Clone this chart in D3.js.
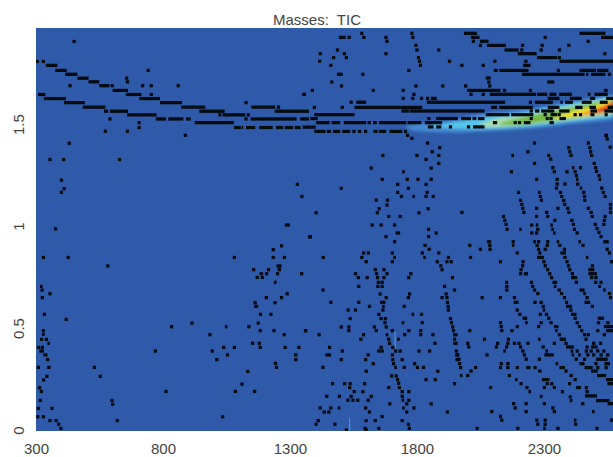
<!DOCTYPE html>
<html>
<head>
<meta charset="utf-8">
<script src="https://cdn.jsdelivr.net/npm/d3@7"></script>
<style>
  body { margin: 0; background: #fff; }
  text { font-family: "Liberation Sans", Arial, sans-serif; fill: #444; }
</style>
</head>
<body>
<div id="chart"></div>
<script>
// tick labels
const massTicks = [300, 800, 1300, 1800, 2300];
const driftTicks = [0, 0.5, 1, 1.5];
const title = "Masses:  TIC";

// TIC ridge, one filled contour per level: mass, lower drift, upper drift
const contourMass = [
    [1757, 1800, 1876, 1970, 2073, 2170, 2269, 2350, 2401, 2490, 2572],
    [1860, 1960, 2066, 2120, 2200, 2300, 2400, 2572],
    [2050, 2110, 2200, 2300, 2400, 2572],
    [2130, 2200, 2300, 2400, 2572],
    [2340, 2400, 2480, 2572],
    [2440, 2500, 2572],
    [2500, 2540, 2572]
];
const contourLow = [
    [1.480, 1.465, 1.460, 1.458, 1.465, 1.470, 1.480, 1.490, 1.500, 1.510, 1.520],
    [1.485, 1.478, 1.475, 1.478, 1.485, 1.497, 1.512, 1.535],
    [1.488, 1.485, 1.492, 1.505, 1.520, 1.547],
    [1.495, 1.497, 1.512, 1.529, 1.559],
    [1.525, 1.534, 1.544, 1.569],
    [1.544, 1.549, 1.564],
    [1.559, 1.564, 1.574]
];
const contourHigh = [
    [1.490, 1.500, 1.510, 1.529, 1.554, 1.564, 1.578, 1.598, 1.613, 1.627, 1.642],
    [1.495, 1.510, 1.534, 1.544, 1.554, 1.578, 1.598, 1.637],
    [1.500, 1.525, 1.539, 1.564, 1.588, 1.632],
    [1.505, 1.529, 1.554, 1.578, 1.622],
    [1.534, 1.559, 1.583, 1.618],
    [1.549, 1.574, 1.613],
    [1.564, 1.583, 1.603]
];
const contourColors = ["#4389d2", "#58c6ea", "#a9dcae", "#74bb45", "#f2e02e", "#f08a22", "#d92a1e"];

// faint vertical streaks: mass, drift from, drift to
const streaks = [[1714, 0.40, 0.482], [1535, 0, 0.06]];

// runs of adjacent dots: mass from, mass to, drift
const upperRuns = [
    [339,384,1.788],[376,421,1.763],[415,463,1.744],[463,507,1.725],[507,549,1.707],[549,589,1.688],
    [602,662,1.665],[654,715,1.645],[707,788,1.625],[788,875,1.605],[872,967,1.583],[943,1043,1.563],
    [1035,1124,1.545],[308,337,1.645],[331,418,1.625],[410,492,1.605],[484,573,1.583],[568,584,1.563],
    [591,662,1.563],[659,775,1.545],[772,812,1.525],[821,880,1.525],[891,909,1.525],[925,1079,1.507],
    [1079,1106,1.483],[1110,1116,1.483],[1127,1163,1.483],[1179,1232,1.483],[1245,1274,1.483],
    [1280,1313,1.483],[1319,1342,1.483],[1350,1401,1.485],[1145,1326,1.525],[1340,1375,1.525],
    [1148,1242,1.583],[1240,1375,1.563],[1380,1409,1.527],[1396,1554,1.546],
    [1493,1519,1.925],[1485,1508,1.744],[1855,1878,1.626],[1561,1600,1.607],[1839,1961,1.607],
    [1554,1821,1.582],[1739,1768,1.564],[1771,1961,1.564],[1876,1961,1.527],
    [1403,1456,1.507],[1464,1498,1.507],[1512,1600,1.507],[1627,1642,1.507],[1650,1758,1.507],
    [1763,1817,1.507],[1831,1899,1.507],[1843,1865,1.486],[1876,1896,1.486],
    [1396,1440,1.464],[1445,1461,1.464],[1469,1498,1.464],[1506,1537,1.464],[1629,1645,1.464],
    [1650,1679,1.464],[1692,1742,1.464],
    [1985,2037,1.945],[2013,2033,1.925],[2016,2029,1.906],[2048,2082,1.906],[2076,2151,1.886],
    [2145,2200,1.863],[2197,2271,1.845],[2273,2352,1.826],[2361,2572,1.808],[2440,2542,1.945],
    [2525,2572,1.925],[2218,2247,1.788],[2103,2118,1.763],[2125,2239,1.763],[2440,2505,1.763],
    [2509,2554,1.763],[2213,2460,1.744],[2466,2475,1.744],[2486,2542,1.744],[2071,2090,1.726],
    [2313,2341,1.706],[1998,2129,1.665],[2536,2551,1.665],[2087,2269,1.646],[2273,2313,1.646],
    [2322,2349,1.646],[2360,2410,1.646],[2473,2483,1.646],[2499,2551,1.646],[2315,2361,1.626],
    [2402,2449,1.626],[2481,2502,1.626],[2545,2572,1.626],[1961,2147,1.607],[2265,2335,1.607],
    [2365,2374,1.607],[2383,2414,1.607],[2449,2488,1.607],[2520,2551,1.607],[2092,2116,1.582],
    [2124,2256,1.582],[2315,2361,1.582],[2423,2452,1.582],[2479,2505,1.582],[2551,2572,1.582],
    [1961,2066,1.564],[2265,2282,1.564],[2289,2341,1.564],[2360,2401,1.564],[2483,2509,1.564],
    [2538,2572,1.564],[2071,2164,1.546],[2171,2247,1.546],[2326,2352,1.546],[2483,2499,1.546],
    [1974,2013,1.527],[2019,2034,1.527],[2040,2066,1.527],[2361,2387,1.527],[2099,2116,1.507],
    [2221,2247,1.507],[2322,2339,1.507],[2021,2066,1.486]
];

const lowerRuns = [
    [1280,1300,1.005],[1247,1267,0.804],[1237,1247,0.724],[1159,1175,0.606],[1044,1054,0.506],
    [313,331,0.387],[329,345,0.368],[316,326,0.704],[324,334,0.469],[345,355,0.425],
    [2172,2182,1.346],[2410,2420,1.286],[2426,2436,1.229],[2515,2525,1.229],[2441,2451,1.186],
    [2277,2287,1.165],[2268,2278,1.005],[2325,2335,1.005],[2203,2213,0.984],[2329,2339,0.984],
    [2336,2346,0.966],[2076,2092,0.923],[2258,2268,0.923],[2350,2360,0.923],[2436,2446,0.923],
    [2534,2555,0.923],[2174,2184,0.905],[2365,2387,0.868],[2273,2300,0.846],[2465,2475,0.846],
    [2475,2499,0.786],[2475,2509,0.766],[2221,2237,0.766],[2407,2431,0.747],[2334,2352,0.724],
    [2339,2349,0.704],[2514,2524,0.704],[2440,2460,0.686],[2533,2543,0.686],[2455,2465,0.669],
    [2181,2200,0.626],[2460,2482,0.626],[2387,2410,0.606],[2295,2305,0.588],[2407,2428,0.567],
    [2216,2234,0.548],[2512,2536,0.548],[2226,2236,0.526],[2339,2357,0.507],[2536,2572,0.507],
    [2344,2354,0.487],[2545,2572,0.487],[2277,2287,0.445],[2362,2387,0.445],[2387,2418,0.407],
    [2140,2150,0.387],[2306,2316,0.387],[2405,2415,0.387],[2302,2339,0.368],[2409,2419,0.368],
    [2435,2445,0.368],[2505,2551,0.347],[2346,2356,0.325],[2440,2460,0.325],[2538,2560,0.325],
    [2230,2247,0.306],[2361,2383,0.306],[2460,2492,0.306],[2486,2512,0.289],[1969,1979,0.267],
    [2509,2545,0.267],[2186,2196,0.247],[2292,2322,0.247],[2545,2572,0.247],[2550,2572,0.227],
    [2427,2446,0.208],[2239,2249,0.188],[2462,2509,0.167],[2284,2294,0.164],[2402,2412,0.144],
    [2505,2558,0.144],[2551,2572,0.129],[2489,2499,0.09],[2418,2428,0.048],[2297,2307,0.008],
    [1742,1752,1.266],[1782,1792,1.145],[1716,1734,0.966],[1707,1717,0.846],[1825,1835,0.846],
    [1655,1676,0.626],[1663,1673,0.606],[1779,1789,0.567],[1740,1750,0.526],[1677,1687,0.467],
    [1943,1960,0.467],[1722,1732,0.445],[1943,1960,0.425],[1440,1462,0.368],[1711,1721,0.307],
    [1740,1750,0.146],[1488,1498,0.108],[1742,1752,0.108]
];

// single dots: mass, drift
const leftDots = [
    [450,1.905],[305,1.807],[329,1.807],[600,1.688],[1024,1.545],[1136,1.545],[1255,1.583],[1127,1.605],
    [1127,1.525],[1355,1.645],[434,1.688],[657,1.725],[660,1.707],[742,1.763],[720,1.688],[754,1.688],
    [754,1.645],[860,1.688],[591,1.525],[706,1.507],[706,1.483],[573,1.465],[660,1.465],[888,1.445],
    [431,1.406],[355,1.326],[409,1.326],[629,1.326],[400,1.225],[411,1.183],[400,1.165],[1329,1.204],
    [1347,1.145],[377,0.986],[329,0.846],[427,0.846],[583,0.804],[1081,0.846],[1234,0.884],[1267,0.903],
    [1234,0.846],[1278,0.846],[1157,0.786],[1258,0.786],[1187,0.766],[1216,0.786],[1208,0.766],[1251,0.766],
    [1346,0.766],[1171,0.748],[1191,0.748],[1378,0.946],[324,0.686],[355,0.668],[325,0.649],[1289,0.668],
    [1207,0.649],[1267,0.649],[1241,0.624],[1163,0.624],[333,0.567],[1184,0.567],[1225,0.567],[419,0.542],
    [1175,0.524],[914,0.524],[834,0.506],[1138,0.506],[1183,0.487],[1237,0.487],[1361,0.487],[329,0.487],
    [985,0.467],[1277,0.467],[322,0.444],[341,0.444],[1153,0.425],[1179,0.425],[310,0.405],[325,0.405],
    [1039,0.405],[1081,0.405],[1183,0.405],[1281,0.405],[1335,0.405],[770,0.387],[994,0.387],[1054,0.368],
    [1323,0.368],[346,0.345],[1012,0.345],[1323,0.345],[309,0.307],[351,0.307],[530,0.307],[1243,0.327],
    [1247,0.307],[1134,0.287],[343,0.263],[553,0.263],[330,0.245],[1111,0.225],[314,0.207],[321,0.189],
    [812,0.189],[1085,0.189],[1161,0.189],[317,0.145],[599,0.145],[602,0.126],[309,0.106],[363,0.106],
    [307,0.065],[329,0.065],[1035,0.065],[355,0.046],[379,0.046],[620,0.046],[389,0.028],[398,0.008]
];

const upperDots = [
    [1533,1.925],[1583,1.945],[1591,1.925],[1678,1.925],[1682,1.906],[1780,1.945],[1784,1.925],[1796,1.886],
    [1800,1.863],[1886,1.863],[1419,1.845],[1487,1.863],[1514,1.845],[1472,1.826],[1522,1.826],[1417,1.808],
    [1678,1.845],[1806,1.826],[1810,1.808],[1814,1.788],[1461,1.788],[1928,1.808],[1768,1.763],[1587,1.744],
    [1465,1.706],[1503,1.687],[1796,1.687],[1902,1.687],[1388,1.665],[1356,1.646],[1628,1.665],[1746,1.665],
    [1788,1.646],[1746,1.626],[1784,1.626],[1818,1.626],[1842,1.626],[1541,1.607],[1396,1.582],[1506,1.582],
    [1847,1.527],[1612,1.507],[1932,1.486],[1552,1.464],[1574,1.464],[1598,1.464],[1755,1.464],[1763,1.445],
    [1780,1.43],[2040,1.925],[2050,1.886],[2216,1.886],[2213,1.863],[2305,1.925],[2293,1.886],[2289,1.863],
    [2361,1.863],[2398,1.886],[2474,1.906],[2540,1.845],[2361,1.826],[1977,1.788],[2061,1.788],[2107,1.808],
    [2229,1.808],[2357,1.763],[2558,1.744],[2083,1.706],[2087,1.687],[1992,1.687],[2145,1.665],[2247,1.665],
    [2013,1.646],[2061,1.646],[2247,1.607],[2250,1.564],[2250,1.527],[2252,1.546],[2305,1.546],[2360,1.546],
    [2423,1.546],[2444,1.546],[2545,1.546],[2313,1.527],[2328,1.527],[2187,1.507],[2204,1.507],[2003,1.486],
    [2545,1.445],[2549,1.427]
];

const midDots = [
    [2545,1.443],[2263,1.407],[2475,1.407],[2561,1.387],[2398,1.384],[2402,1.364],[2481,1.384],[2484,1.364],
    [2488,1.346],[2407,1.346],[2237,1.364],[2319,1.346],[2327,1.328],[2498,1.307],[2504,1.286],[2507,1.268],
    [2263,1.307],[2335,1.286],[2444,1.286],[2172,1.266],[2341,1.266],[2391,1.266],[2423,1.266],[2428,1.247],
    [2517,1.247],[2271,1.229],[2352,1.229],[2352,1.206],[2383,1.206],[2433,1.206],[2349,1.186],[2528,1.186],
    [2200,1.165],[2365,1.165],[2457,1.165],[2534,1.165],[2286,1.145],[2370,1.145],[2460,1.145],[2541,1.145],
    [2208,1.126],[2290,1.126],[2378,1.126],[2461,1.126],[2213,1.106],[2382,1.106],[2562,1.106],[2217,1.087],
    [2271,1.087],[2355,1.087],[2394,1.087],[2475,1.087],[2562,1.087],[2221,1.067],[2311,1.067],[2398,1.067],
    [2486,1.067],[2562,1.067],[1977,1.067],[2141,1.047],[2271,1.047],[2315,1.047],[2490,1.047],[2541,1.047],
    [2146,1.028],[2343,1.028],[2410,1.028],[2538,1.028],[2151,1.008],[2252,1.005],[2416,1.008],[2502,1.008],
    [2536,1.008],[2155,0.984],[2276,0.984],[2420,0.984],[2509,0.988],[2252,0.966],[2271,0.966],[2431,0.966],
    [2517,0.969],[2525,0.948],[2179,0.923],[2279,0.923],[2315,0.923],[2008,0.905],[2087,0.905],[2273,0.905],
    [2313,0.905],[2363,0.905],[2454,0.905],[2050,0.886],[2088,0.886],[2279,0.886],[2305,0.886],[2381,0.886],
    [2549,0.886],[2195,0.868],[2284,0.868],[2558,0.868],[2011,0.846],[2383,0.846],[2129,0.825],[2218,0.825],
    [2300,0.825],[2391,0.825],[2567,0.825],[2216,0.805],[2305,0.805],[2397,0.805],[2491,0.805],[2210,0.786],
    [2315,0.786],[2402,0.786],[2208,0.766],[2323,0.766],[2412,0.766],[2330,0.747],[2488,0.747],[2505,0.747],
    [2153,0.724],[2251,0.724],[2428,0.724],[2504,0.724],[2525,0.724]
];

const lowerRightDots = [
    [2154,0.704],[2154,0.686],[2256,0.704],[2263,0.686],[2276,0.669],[2360,0.686],[2370,0.669],[2381,0.649],
    [2470,0.649],[2558,0.669],[2562,0.649],[2057,0.649],[2129,0.649],[2184,0.649],[2265,0.626],[2289,0.626],
    [2297,0.606],[2389,0.626],[2491,0.606],[2195,0.588],[2406,0.588],[2205,0.567],[2286,0.567],[2310,0.567],
    [2319,0.548],[2423,0.548],[2129,0.526],[2289,0.526],[2328,0.526],[2431,0.526],[2515,0.526],[2552,0.526],
    [2132,0.507],[2195,0.507],[2279,0.507],[2440,0.507],[2008,0.487],[2134,0.487],[2174,0.487],[2449,0.487],
    [2512,0.487],[2361,0.467],[2460,0.467],[2475,0.467],[2538,0.467],[2066,0.445],[2160,0.445],[2466,0.445],
    [2000,0.425],[2118,0.425],[2158,0.425],[2184,0.425],[2202,0.425],[2237,0.425],[2341,0.425],[2387,0.425],
    [2496,0.425],[2523,0.425],[2004,0.407],[2113,0.407],[2153,0.407],[2208,0.407],[2297,0.407],[2470,0.407],
    [2492,0.407],[2505,0.407],[2217,0.387],[2431,0.387],[2467,0.387],[2486,0.387],[2512,0.387],[2536,0.387],
    [2076,0.368],[2223,0.368],[2473,0.368],[2496,0.368],[2525,0.368],[2551,0.368],[1961,0.368],[2282,0.347],
    [2230,0.347],[2427,0.347],[2460,0.347],[1965,0.347],[2132,0.325],[2158,0.325],[2505,0.325],[1968,0.325],
    [1972,0.306],[2031,0.306],[2129,0.306],[2158,0.306],[2195,0.306],[2265,0.306],[2512,0.306],[2545,0.306],
    [2013,0.289],[2284,0.289],[2387,0.289],[2000,0.267],[2164,0.267],[2407,0.267],[2423,0.247],[2210,0.227],
    [2313,0.227],[2331,0.227],[2401,0.227],[2090,0.208],[2233,0.208],[2302,0.208],[2341,0.208],[2467,0.208],
    [2373,0.188],[2470,0.188],[2404,0.162],[2181,0.129],[2230,0.129],[2302,0.129],[2453,0.129],[2187,0.108],
    [2335,0.108],[2095,0.09],[2230,0.09],[2341,0.09],[2129,0.067],[2134,0.048],[2272,0.048],[2305,0.048],
    [2276,0.028],[2305,0.028],[2425,0.028],[2567,0.048],[2037,0.008],[2197,0.008],[2355,0.008],[2509,0.008]
];

const centreDots = [
    [1842,1.407],[1890,1.384],[1860,1.364],[1666,1.346],[1800,1.346],[1886,1.346],[1836,1.327],[1886,1.307],
    [1620,1.284],[1856,1.284],[1663,1.229],[1762,1.229],[1804,1.229],[1856,1.229],[1724,1.204],[1836,1.204],
    [1502,1.185],[1766,1.185],[1724,1.165],[1840,1.165],[1739,1.145],[1836,1.145],[1864,1.145],[1640,1.127],
    [1684,1.127],[1682,1.103],[1651,1.085],[1844,1.085],[1403,1.065],[1644,1.065],[1808,1.065],[1689,1.047],
    [1734,1.047],[1624,1.005],[1659,1.005],[1712,1.005],[1846,0.984],[1876,0.966],[1380,0.948],[1678,0.948],
    [1846,0.948],[1712,0.923],[1832,0.905],[1848,0.886],[1590,0.868],[1609,0.868],[1703,0.868],[1821,0.868],
    [1886,0.868],[1431,0.846],[1583,0.846],[1924,0.846],[1600,0.825],[1703,0.825],[1880,0.825],[1918,0.825],
    [1935,0.825],[1894,0.805],[1899,0.786],[1636,0.786],[1670,0.786],[1558,0.766],[1641,0.766],[1682,0.766],
    [1776,0.766],[1569,0.747],[1604,0.747],[1645,0.747],[1670,0.747],[1768,0.747],[1940,0.747],[1648,0.724],
    [1663,0.724],[1571,0.704],[1646,0.704],[1663,0.704],[1430,0.686],[1909,0.704],[1948,0.686],[1655,0.667],
    [1771,0.667],[1915,0.667],[1679,0.649],[1766,0.649],[1899,0.649],[1918,0.649],[1461,0.626],[1571,0.626],
    [1920,0.626],[1613,0.606],[1750,0.606],[1923,0.606],[1529,0.588],[1558,0.588],[1666,0.588],[1924,0.588],
    [1650,0.567],[1818,0.567],[1537,0.546],[1659,0.546],[1676,0.546],[1932,0.546],[1674,0.526],[1821,0.526],
    [1936,0.526],[1502,0.505],[1532,0.505],[1632,0.505],[1679,0.505],[1941,0.505],[1362,0.487],[1532,0.487],
    [1640,0.487],[1703,0.487],[1768,0.487],[1815,0.487],[1944,0.487],[1415,0.467],[1590,0.467],[1752,0.467],
    [1815,0.467],[1863,0.467],[1579,0.445],[1689,0.445],[1948,0.445],[1692,0.425],[1871,0.425],[1456,0.405],
    [1659,0.405],[1705,0.405],[1506,0.387],[1650,0.387],[1663,0.387],[1716,0.387],[1734,0.387],[1808,0.387],
    [1850,0.387],[1955,0.387],[1608,0.368],[1703,0.368],[1957,0.368],[1502,0.345],[1598,0.345],[1705,0.345],
    [1742,0.345],[1958,0.345],[1628,0.325],[1708,0.325],[1791,0.325],[1430,0.307],[1750,0.307],[1802,0.307],
    [1826,0.307],[1600,0.288],[1882,0.288],[1700,0.265],[1718,0.265],[1724,0.247],[1836,0.247],[1872,0.247],
    [1728,0.229],[1468,0.227],[1515,0.227],[1537,0.227],[1594,0.227],[1948,0.227],[1535,0.208],[1689,0.208],
    [1731,0.208],[1553,0.188],[1587,0.188],[1742,0.188],[1768,0.188],[1445,0.165],[1495,0.165],[1541,0.165],
    [1620,0.165],[1742,0.165],[1528,0.146],[1548,0.146],[1567,0.146],[1608,0.146],[1768,0.146],[1693,0.128],
    [1760,0.128],[1856,0.128],[1419,0.108],[1461,0.108],[1598,0.108],[1788,0.108],[1435,0.088],[1453,0.088],
    [1613,0.088],[1760,0.088],[1920,0.088],[1663,0.066],[1411,0.046],[1600,0.046],[1636,0.046],[1742,0.046],
    [1403,0.028],[1477,0.028],[1766,0.028],[1596,0.008],[1650,0.008],[1770,0.008],[1522,0],[1600,0]
];

const width = 613, height = 457, dotSize = 3.2;

const svg = d3.select("#chart").append("svg")
    .attr("width", width)
    .attr("height", height)
    .style("display", "block");

// scales
const x = d3.scaleLinear().domain([300, 2572]).range([36, 613]);
const y = d3.scaleLinear().domain([-0.005, 1.971]).range([431, 28]);

// slight softening, the reference is a compressed screenshot
const defs = svg.append("defs");
defs.append("filter").attr("id", "ridgeBlur")
    .attr("x", "-5%").attr("y", "-50%").attr("width", "110%").attr("height", "200%")
    .append("feGaussianBlur").attr("stdDeviation", 1.4);
defs.append("filter").attr("id", "dotSoft")
    .append("feGaussianBlur").attr("stdDeviation", 0.35);

// plot background
svg.append("rect")
    .attr("x", x(300))
    .attr("y", y(1.971))
    .attr("width", x(2572) - x(300))
    .attr("height", y(-0.005) - y(1.971))
    .attr("fill", "#2e5aa9");

// ridge contours
const ridge = d3.area()
    .x(d => x(d.mass))
    .y0(d => y(d.low))
    .y1(d => y(d.high))
    .curve(d3.curveMonotoneX);

defs.append("clipPath").attr("id", "plotClip")
    .append("rect")
    .attr("x", x(300))
    .attr("y", y(1.971))
    .attr("width", x(2572) - x(300))
    .attr("height", y(-0.005) - y(1.971));

svg.append("g")
    .attr("clip-path", "url(#plotClip)")
    .append("g")
    .attr("filter", "url(#ridgeBlur)")
    .selectAll("path")
    .data(contourMass)
    .enter()
    .append("path")
    .attr("d", (masses, i) => ridge(masses.map((m, j) => ({
        mass: m, low: contourLow[i][j], high: contourHigh[i][j]
    }))))
    .attr("fill", (d, i) => contourColors[i]);

// streaks
svg.append("g")
    .selectAll("line")
    .data(streaks)
    .enter()
    .append("line")
    .attr("x1", d => x(d[0]))
    .attr("x2", d => x(d[0]))
    .attr("y1", d => y(d[1]))
    .attr("y2", d => y(d[2]))
    .attr("stroke", "#4f9ad8")
    .attr("stroke-width", 1);

// dots and runs
const marks = svg.append("g")
    .attr("clip-path", "url(#plotClip)")
    .append("g")
    .attr("filter", "url(#dotSoft)")
    .attr("fill", "#05070f");

marks.selectAll("rect.run")
    .data(upperRuns.concat(lowerRuns))
    .enter()
    .append("rect")
    .attr("class", "run")
    .attr("x", d => x(d[0]))
    .attr("y", d => y(d[2]) - dotSize / 2)
    .attr("width", d => x(d[1]) - x(d[0]))
    .attr("height", dotSize);

marks.selectAll("rect.dot")
    .data(leftDots.concat(upperDots, midDots, lowerRightDots, centreDots))
    .enter()
    .append("rect")
    .attr("class", "dot")
    .attr("x", d => x(d[0]) - dotSize / 2)
    .attr("y", d => y(d[1]) - dotSize / 2)
    .attr("width", dotSize)
    .attr("height", dotSize);

// x axis
const xAxis = svg.append("g")
    .attr("transform", "translate(0,431)")
    .call(d3.axisBottom(x).tickValues(massTicks).tickSize(0).tickPadding(12).tickFormat(d3.format("d")));
xAxis.select(".domain").remove();
xAxis.selectAll("text").attr("font-size", 15).style("font-family", "Liberation Sans");

// y axis, labels turned like R does
const yAxis = svg.append("g")
    .attr("transform", "translate(36,0)")
    .call(d3.axisLeft(y).tickValues(driftTicks).tickSize(0).tickFormat(d => String(d)));
yAxis.select(".domain").remove();
yAxis.selectAll("text")
    .attr("font-size", 15)
    .style("font-family", "Liberation Sans")
    .attr("text-anchor", "middle")
    .attr("x", 0)
    .attr("dy", 0)
    .attr("transform", "translate(-12,0) rotate(-90)");

// title
svg.append("text")
    .text(title)
    .attr("x", 317)
    .attr("y", 25)
    .attr("text-anchor", "middle")
    .attr("font-size", 15)
    .style("white-space", "pre");
</script>
</body>
</html>
